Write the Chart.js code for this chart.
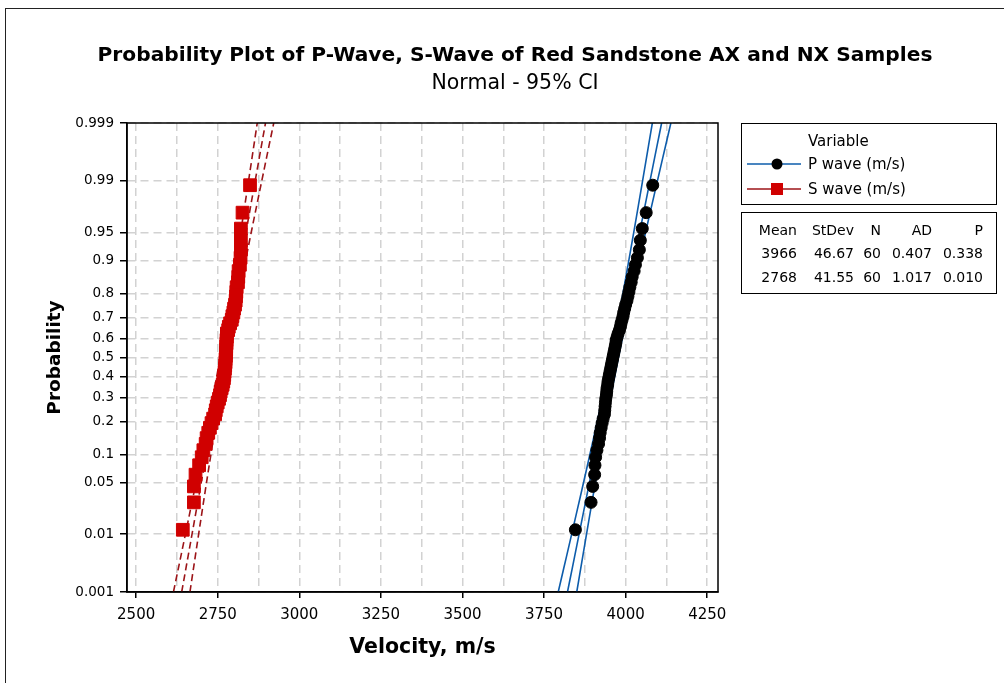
<!DOCTYPE html>
<html>
<head>
<meta charset="utf-8">
<script src="https://cdn.jsdelivr.net/npm/chart.js@4/dist/chart.umd.min.js"></script>
<style>
  body { margin: 0; background: #fff; }
  #wrap { position: relative; width: 1004px; height: 683px; background: #fff; font-family: "DejaVu Sans", sans-serif; color: #000; overflow: hidden; }
  #frame { position: absolute; left: 5px; top: 8px; right: -10px; bottom: -10px; border: 1.5px solid #222; }
  .ttl { position: absolute; left: 0; width: 1030px; text-align: center; white-space: nowrap; }
  #title { top: 41px; line-height: 26px; font-size: 20.2px; font-weight: bold; }
  #subtitle { top: 69px; line-height: 26px; font-size: 20.5px; }
  .box { position: absolute; left: 741px; width: 256px; height: 82px; border: 1.5px solid #000; box-sizing: border-box; }
  .txt { position: absolute; white-space: nowrap; line-height: 20px; }
  .lg { font-size: 15px; }
  .st { font-size: 14px; text-align: right; width: 100px; }
  svg { position: absolute; }
</style>
</head>
<body>
<div id="wrap">
  <canvas id="probPlot" width="1004" height="683"></canvas>
  <div id="frame"></div>
  <div class="ttl" id="title">Probability Plot of P-Wave, S-Wave of Red Sandstone AX and NX Samples</div>
  <div class="ttl" id="subtitle">Normal - 95% CI</div>
  <div class="box" style="top:123px"></div>
  <div class="box" style="top:212px"></div>
  <div id="legend"></div>
  <div id="stats"></div>
</div>
<script>
// sorted velocities (m/s), 60 samples each
const pWave = [3846, 3894, 3899, 3905, 3906, 3908, 3912, 3917, 3920, 3922,
  3925, 3928, 3931, 3935, 3936, 3937, 3938, 3939, 3941, 3942,
  3943, 3945, 3946, 3948, 3950, 3952, 3954, 3956, 3958, 3960,
  3962, 3964, 3966, 3968, 3970, 3971, 3974, 3977, 3981, 3984,
  3986, 3989, 3992, 3994, 3997, 4000, 4004, 4007, 4010, 4013,
  4017, 4020, 4026, 4030, 4036, 4042, 4045, 4051, 4063, 4083];
const sWave = [2643, 2677, 2677, 2682, 2693, 2701, 2706, 2713, 2716, 2721,
  2726, 2731, 2736, 2742, 2744, 2747, 2750, 2754, 2757, 2759,
  2762, 2765, 2767, 2769, 2770, 2771, 2772, 2773, 2774, 2774,
  2775, 2775, 2776, 2776, 2777, 2777, 2778, 2778, 2782, 2784,
  2788, 2793, 2795, 2798, 2800, 2803, 2805, 2806, 2807, 2808,
  2812, 2813, 2814, 2818, 2820, 2821, 2821, 2821, 2826, 2849];

const seriesNames = ["P wave (m/s)", "S wave (m/s)"];
const means = [3966, 2768];
const stdevs = [46.67, 41.55];
const counts = [60, 60];
const adStats = ["0.407", "1.017"];
const pValues = ["0.338", "0.010"];

const probTicks = [0.001, 0.01, 0.05, 0.1, 0.2, 0.3, 0.4, 0.5, 0.6, 0.7, 0.8, 0.9, 0.95, 0.99, 0.999];
const probLabels = ["0.001", "0.01", "0.05", "0.1", "0.2", "0.3", "0.4", "0.5", "0.6", "0.7", "0.8", "0.9", "0.95", "0.99", "0.999"];
const velTicks = [2500, 2625, 2750, 2875, 3000, 3125, 3250, 3375, 3500, 3625, 3750, 3875, 4000, 4125, 4250];

// inverse standard normal CDF (Acklam)
function normInv(p) {
  const a = [-39.69683028665376, 220.9460984245205, -275.9285104469687, 138.3577518672690, -30.66479806614716, 2.506628277459239];
  const b = [-54.47609879822406, 161.5858368580409, -155.6989798598866, 66.80131188771972, -13.28068155288572];
  const c = [-0.007784894002430293, -0.3223964580411365, -2.400758277161838, -2.549732539343734, 4.374664141464968, 2.938163982698783];
  const d = [0.007784695709041462, 0.3224671290700398, 2.445134137142996, 3.754408661907416];
  const lo = 0.02425;
  if (p < lo) {
    const q = Math.sqrt(-2 * Math.log(p));
    return (((((c[0]*q+c[1])*q+c[2])*q+c[3])*q+c[4])*q+c[5]) / ((((d[0]*q+d[1])*q+d[2])*q+d[3])*q+1);
  }
  if (p > 1 - lo) return -normInv(1 - p);
  const q = p - 0.5, r = q * q;
  return (((((a[0]*r+a[1])*r+a[2])*r+a[3])*r+a[4])*r+a[5])*q / (((((b[0]*r+b[1])*r+b[2])*r+b[3])*r+b[4])*r+1);
}

const zMin = normInv(probTicks[0]);
const zMax = normInv(probTicks[probTicks.length - 1]);

// median-rank plotting positions
function probPoints(vals) {
  const n = vals.length;
  return vals.map((v, i) => ({ x: v, y: normInv((i + 1 - 0.3) / (n + 0.4)) }));
}

// fitted percentile line and its 95% bounds
function fitLine(k, side) {
  const pts = [];
  for (let j = 0; j <= 40; j++) {
    const z = zMin + (zMax - zMin) * j / 40;
    const half = 1.96 * stdevs[k] * Math.sqrt(1 / counts[k] + z * z / (2 * counts[k]));
    pts.push({ x: means[k] + stdevs[k] * z + side * half, y: z });
  }
  return pts;
}

const pBlue = "#0d5cab";
const sRed = "#9c1418";

function lineSet(k, side, color, dash) {
  return {
    type: "line", data: fitLine(k, side), borderColor: color, borderWidth: 1.6,
    borderDash: dash, pointRadius: 0, fill: false, tension: 0, order: 2
  };
}

Chart.defaults.font.family = "DejaVu Sans";
Chart.defaults.color = "#000";

const plotFrame = {
  id: "plotFrame",
  afterDraw(chart) {
    const { ctx, chartArea: a } = chart;
    ctx.save();
    ctx.strokeStyle = "#000";
    ctx.lineWidth = 1.5;
    ctx.strokeRect(a.left, a.top, a.right - a.left, a.bottom - a.top);
    ctx.restore();
  }
};

const probChart = new Chart(document.getElementById("probPlot"), {
  type: "scatter",
  data: {
    datasets: [
      {
        label: seriesNames[0], data: probPoints(pWave), pointStyle: "circle",
        pointRadius: 6, backgroundColor: "#000", borderColor: "#000", borderWidth: 1, order: 0
      },
      {
        label: seriesNames[1], data: probPoints(sWave), pointStyle: "rect",
        pointRadius: 9, backgroundColor: "#d00000", borderColor: "#d00000", borderWidth: 1, order: 1
      },
      lineSet(0, 0, pBlue, []), lineSet(0, -1, pBlue, []), lineSet(0, 1, pBlue, []),
      lineSet(1, 0, sRed, [7, 4]), lineSet(1, -1, sRed, [7, 4]), lineSet(1, 1, sRed, [7, 4])
    ]
  },
  options: {
    responsive: false,
    animation: false,
    devicePixelRatio: 1,
    layout: { padding: { left: 35, top: 123, right: 286, bottom: 15 } },
    plugins: { legend: { display: false }, title: { display: false }, tooltip: { enabled: false } },
    scales: {
      x: {
        type: "linear", min: 2472, max: 4283,
        afterBuildTicks: (s) => { s.ticks = velTicks.map(v => ({ value: v })); },
        afterFit: (s) => { s.height = 76; },
        ticks: {
          autoSkip: false, maxRotation: 0, padding: 8, font: { size: 15 },
          callback: (v) => (v % 250 === 0 ? String(v) : "")
        },
        grid: {
          color: "#d2d2d2", lineWidth: 1.5, tickLength: 6, tickWidth: 1.5,
          tickColor: (c) => (c.tick && c.tick.value % 250 === 0 ? "#000" : "rgba(0,0,0,0)")
        },
        border: { color: "#000", width: 1.5, dash: [8, 5] },
        title: { display: true, text: "Velocity, m/s", font: { size: 20.5, weight: "bold" }, padding: { top: 4, bottom: 8 } }
      },
      y: {
        type: "linear", min: zMin, max: zMax,
        afterBuildTicks: (s) => { s.ticks = probTicks.map(p => ({ value: normInv(p) })); },
        afterFit: (s) => { s.width = 92; },
        ticks: {
          autoSkip: false, padding: 6, font: { size: 13.5 },
          callback: (v, i) => probLabels[i]
        },
        grid: { color: "#d2d2d2", lineWidth: 1.5, tickLength: 7, tickWidth: 1.5, tickColor: "#000" },
        border: { color: "#000", width: 1.5, dash: [8, 5] },
        title: { display: true, text: "Probability", font: { size: 18.5, weight: "bold" }, padding: { top: 9, bottom: 0 } }
      }
    }
  },
  plugins: [plotFrame]
});

// legend box
const legend = document.getElementById("legend");
function addText(parent, cls, text, left, cy, extra) {
  const el = document.createElement("div");
  el.className = "txt " + cls;
  el.textContent = text;
  el.style.left = left + "px";
  el.style.top = (cy - 10) + "px";
  if (extra) Object.assign(el.style, extra);
  parent.appendChild(el);
}
addText(legend, "lg", "Variable", 808, 141);
const legendColors = [pBlue, sRed];
[164, 189].forEach((cy, k) => {
  const svg = document.createElementNS("http://www.w3.org/2000/svg", "svg");
  svg.setAttribute("width", "56");
  svg.setAttribute("height", "16");
  svg.style.left = "747px";
  svg.style.top = (cy - 8) + "px";
  const mark = k === 0
    ? '<circle cx="30" cy="8" r="5.5" fill="#000"/>'
    : '<rect x="24" y="2" width="12" height="12" fill="#d00000"/>';
  svg.innerHTML = '<line x1="0" y1="8" x2="54" y2="8" stroke="' + legendColors[k] + '" stroke-width="1.6"/>' + mark;
  legend.appendChild(svg);
  addText(legend, "lg", seriesNames[k], 808, cy);
});

// statistics table
const stats = document.getElementById("stats");
const colRight = [797, 854, 881, 932, 983];
const header = ["Mean", "StDev", "N", "AD", "P"];
header.forEach((h, c) => addText(stats, "st", h, colRight[c] - 100, 230));
[253, 277].forEach((cy, k) => {
  const row = [String(means[k]), stdevs[k].toFixed(2), String(counts[k]), adStats[k], pValues[k]];
  row.forEach((t, c) => addText(stats, "st", t, colRight[c] - 100, cy));
});
</script>
</body>
</html>
